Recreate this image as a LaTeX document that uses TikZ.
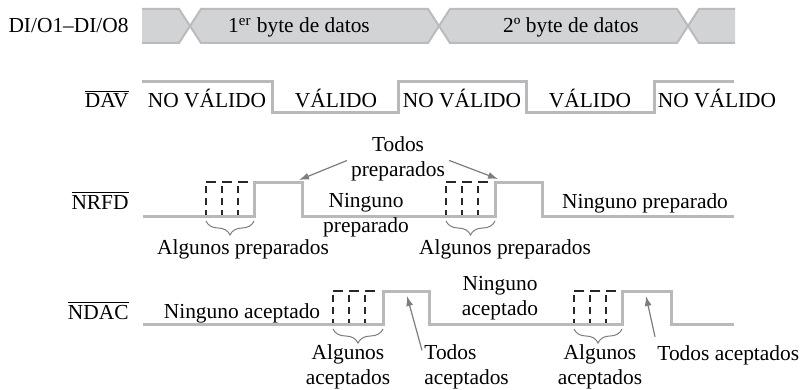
\documentclass[tikz,border=0pt]{standalone}
\usepackage{fontspec}
\setmainfont{Liberation Serif}
\usepackage{xcolor}
\usepackage{tikz}
\usetikzlibrary{positioning, arrows.meta, decorations.pathreplacing}

\definecolor{gsenal}{RGB}{184,185,189}
\definecolor{gbus}{RGB}{210,211,213}
\definecolor{gborde}{RGB}{186,187,191}
\definecolor{gtramo}{RGB}{40,40,40}
\definecolor{gflecha}{RGB}{125,125,128}

\begin{document}
\begin{tikzpicture}[x=0.5pt, y=-0.5pt,
    every node/.style={font=\fontsize{10.7}{12.5}\selectfont, inner sep=0pt},
    senal/.style={draw=gsenal, line width=1.5pt},
    bus/.style={draw=gborde, line width=1pt},
    tramoh/.style={draw=gtramo, line width=0.8pt, dash pattern=on 5pt off 3pt},
    tramov/.style={draw=gtramo, line width=0.8pt, dash pattern=on 3.5pt off 2.5pt},
    llave/.style={draw=gflecha, line width=0.5pt, decorate, decoration={brace, mirror, amplitude=7pt}},
    flecha/.style={draw=gflecha, line width=0.6pt, -{Latex[length=5pt, width=3.5pt]}}]
    \useasboundingbox (0,0) rectangle (808,390);

    % Bus de datos
    \fill[gbus] (142,9) -- (179,9) -- (190,26) -- (179,43) -- (142,43) -- cycle;
    \fill[gbus] (201,9) -- (428,9) -- (439,26) -- (428,43) -- (201,43) -- (190,26) -- cycle;
    \fill[gbus] (450,9) -- (677,9) -- (688,26) -- (677,43) -- (450,43) -- (439,26) -- cycle;
    \fill[gbus] (699,9) -- (735,9) -- (735,43) -- (699,43) -- (688,26) -- cycle;
    \draw[bus] (142,9) -- (179,9) -- (201,43) -- (428,43) -- (450,9) -- (677,9) -- (699,43) -- (735,43);
    \draw[bus] (142,43) -- (179,43) -- (201,9) -- (428,9) -- (450,43) -- (677,43) -- (699,9) -- (735,9);
    \node[anchor=base east] (dio) at (129,33) {DI/O1–DI/O8};
    \node[anchor=base] (byte1) at (299,33) {1\textsuperscript{er} byte de datos};
    \node[anchor=base] (byte2) at (571,33) {2º byte de datos};

    % DAV
    \draw[senal] (142,82) -- (272,82) -- (272,113) -- (398,113) -- (398,82) -- (526,82)
        -- (526,113) -- (654,113) -- (654,82) -- (734,82);
    \node[anchor=base east] (dav) at (129,108) {$\overline{\mbox{DAV}}$};
    \node[anchor=base] (nv1) at (207,108) {NO VÁLIDO};
    \node[anchor=base] (v1) at (336,108) {VÁLIDO};
    \node[anchor=base] (nv2) at (462,108) {NO VÁLIDO};
    \node[anchor=base] (v2) at (590,108) {VÁLIDO};
    \node[anchor=base] (nv3) at (717,108) {NO VÁLIDO};

    % NRFD
    \draw[senal] (143,216) -- (254,216) -- (254,182) -- (302,182) -- (302,216) -- (495,216)
        -- (495,182) -- (542,182) -- (542,216) -- (734,216);
    \draw[tramoh] (206,182) -- (250,182);
    \draw[tramov] (206,186) -- (206,215);
    \draw[tramov] (222,186) -- (222,215);
    \draw[tramov] (238,186) -- (238,215);
    \draw[tramoh] (446,182) -- (490,182);
    \draw[tramov] (446,186) -- (446,215);
    \draw[tramov] (462,186) -- (462,215);
    \draw[tramov] (478,186) -- (478,215);
    \draw[llave] (206,221) -- (254,221);
    \draw[llave] (446,221) -- (495,221);
    \node[anchor=base east] (nrfd) at (129,209) {$\overline{\mbox{NRFD}}$};
    \node[align=center] (todosprep) at (398,159) {Todos\\preparados};
    \node[align=center] (ningprep1) at (366,215) {Ninguno\\preparado};
    \node[anchor=base] (ningprep2) at (645,208) {Ninguno preparado};
    \node[anchor=base] (algprep1) at (243,254) {Algunos preparados};
    \node[anchor=base] (algprep2) at (505,254) {Algunos preparados};
    \coordinate (pulso1) at (299,180);
    \coordinate (pulso2) at (498,179);
    \draw[flecha, shorten <=2pt] (todosprep.west) -- (pulso1);
    \draw[flecha, shorten <=2pt] (todosprep.east) -- (pulso2);

    % NDAC
    \draw[senal] (143,324) -- (383,324) -- (383,291) -- (429,291) -- (429,324) -- (622,324)
        -- (622,291) -- (671,291) -- (671,324) -- (734,324);
    \draw[tramoh] (333,291) -- (377,291);
    \draw[tramov] (333,295) -- (333,323);
    \draw[tramov] (349,295) -- (349,323);
    \draw[tramov] (365,295) -- (365,323);
    \draw[tramoh] (574,291) -- (618,291);
    \draw[tramov] (574,295) -- (574,323);
    \draw[tramov] (590,295) -- (590,323);
    \draw[tramov] (606,295) -- (606,323);
    \draw[llave] (333,329) -- (383,329);
    \draw[llave] (574,329) -- (622,329);
    \node[anchor=base east] (ndac) at (129,319) {$\overline{\mbox{NDAC}}$};
    \node[anchor=base] (ningacep1) at (242,318) {Ninguno aceptado};
    \node[align=center] (ningacep2) at (500,298) {Ninguno\\aceptado};
    \node[align=center] (algacep1) at (348,367) {Algunos\\aceptados};
    \node[align=center] (algacep2) at (600,367) {Algunos\\aceptados};
    \node[align=left, anchor=west] (todosacep1) at (424,367) {Todos\\aceptados};
    \node[anchor=base west] (todosacep2) at (657,360) {Todos aceptados};
    \coordinate (alto1) at (407,296);
    \coordinate (alto2) at (646,296);
    \draw[flecha] ([xshift=-1pt, yshift=-3pt]todosacep1.north west) -- (alto1);
    \draw[flecha] ([xshift=-1pt, yshift=4pt]todosacep2.north west) -- (alto2);
\end{tikzpicture}
\end{document}
